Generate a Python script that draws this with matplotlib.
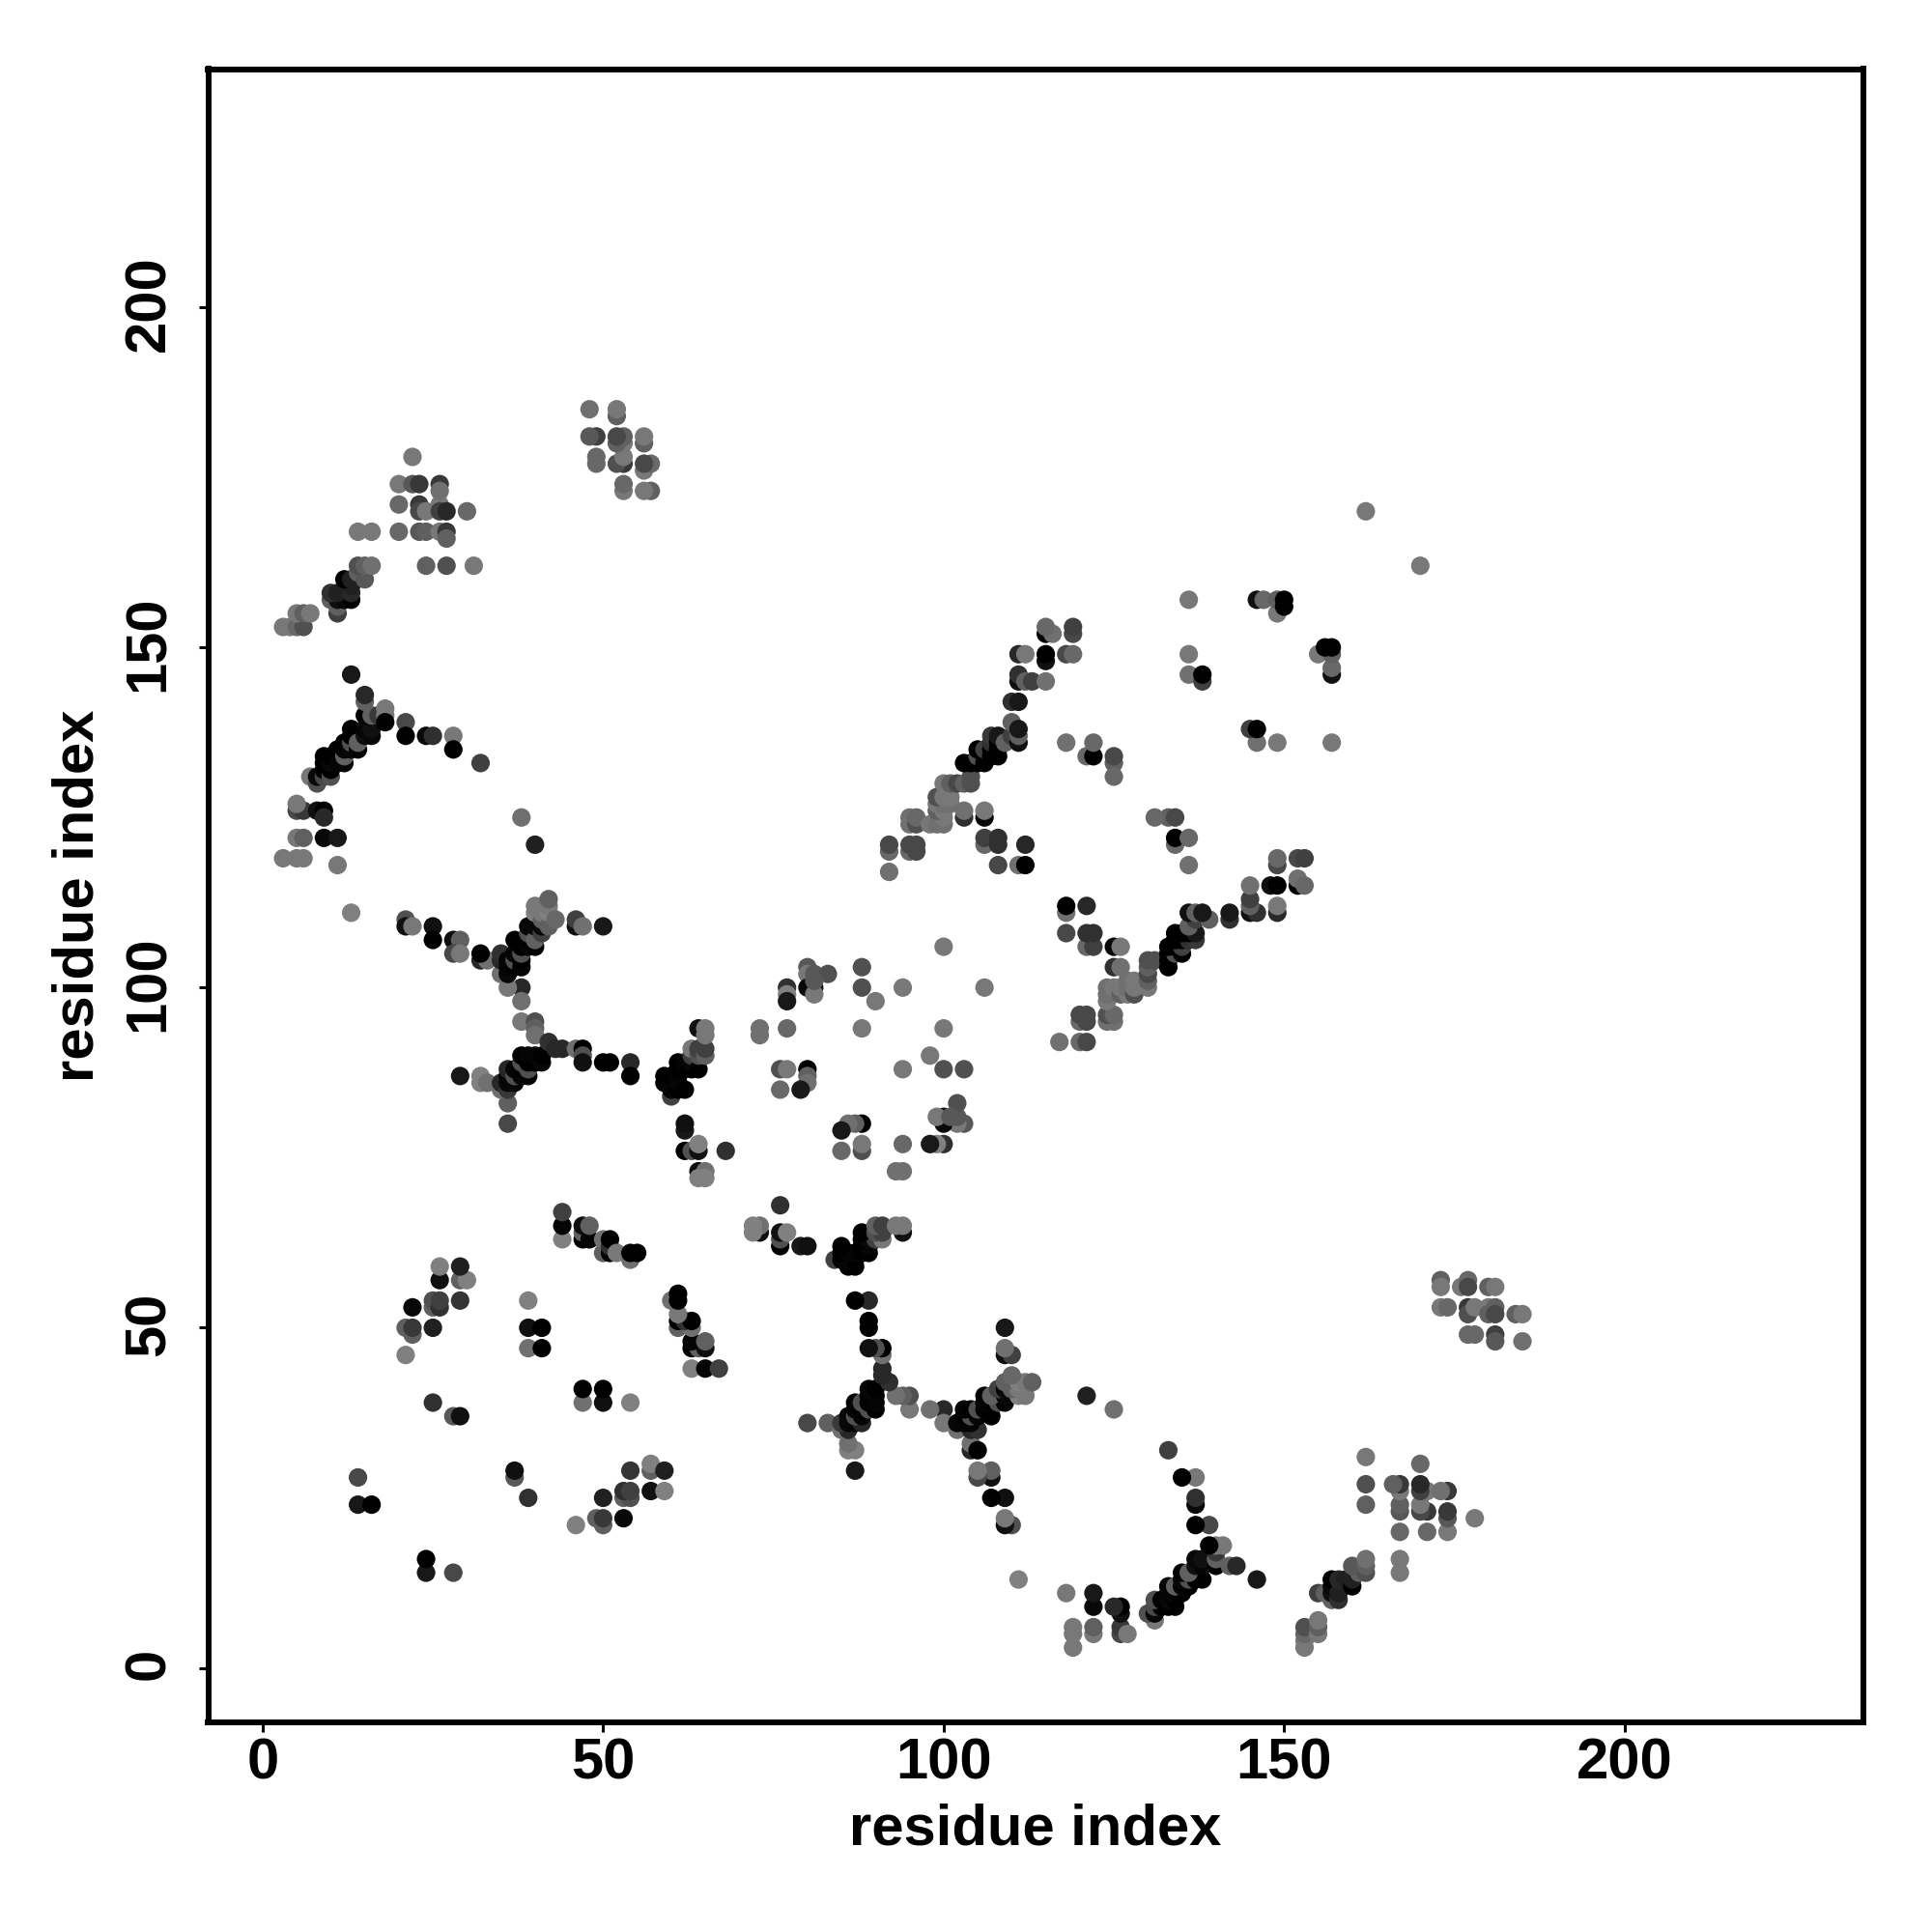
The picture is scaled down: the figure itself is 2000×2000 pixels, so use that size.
import matplotlib
matplotlib.use("Agg")
import matplotlib.pyplot as plt
from matplotlib.transforms import ScaledTranslation

plt.rcParams['font.family'] = ['Liberation Sans', 'DejaVu Sans']

# contacts (residue i, residue j, grey level 0-255), grouped by region
a1_i = [14,16,14,25,28,29,21,21,22,22,22,25,25,25,26,26,29,26,29,30,26,29]
a1_j = [24,24,28,39,37,37,46,50,49,50,53,50,53,54,53,54,54,57,57,57,59,59]
a1_g = [0x18,0x00,0x48,0x30,0x58,0x10,0x80,0x60,0x60,0x38,0x08,0x20,0x60,0x50,0x30,0x40,0x35,0x10,0x60,0x80,0x80,0x20]

a2_i = [39,41,39,41,39,44,44,44,47,47,47,48,48,50,50,51,51,51,52,54,54,55]
a2_j = [47,47,50,50,54,63,65,67,63,64,65,63,65,61,63,61,62,63,61,60,61,61]
a2_g = [0x70,0x00,0x10,0x00,0x80,0x80,0x05,0x40,0x00,0x60,0x10,0x05,0x60,0x60,0x70,0x00,0x30,0x00,0x78,0x70,0x00,0x00]

a3_i = [13,3,5,6,11,5,6,9,11,5,6,8,9,9,5]
a3_j = [111,119,119,119,118,122,122,122,122,126,126,126,126,125,127]
a3_g = [0x80,0x78,0x78,0x78,0x78,0x78,0x60,0x08,0x18,0x48,0x38,0x10,0x00,0x28,0x78]

a4_i = [7,8,8,9,9,9,9,10,10,10,10,11,11,12,12,12,12,13,13,13,13,14,14,15,15,16,16]
a4_j = [131,130,131,131,132,133,134,131,132,133,134,133,135,133,134,135,136,135,136,137,138,135,136,137,138,137,138]
a4_g = [0x78,0x50,0x08,0x48,0x00,0x00,0x00,0x50,0x00,0x08,0x00,0x05,0x00,0x05,0x60,0x05,0x00,0x08,0x50,0x00,0x00,0x05,0x60,0x10,0x05,0x08,0x10]

a5_i = [15,16,17,18,18,18,15,15,13,21,21,24,25,28,28,32]
a5_j = [140,140,140,140,141,139,142,143,146,139,137,137,137,137,135,133]
a5_g = [0x00,0x60,0x38,0x78,0x78,0x00,0x60,0x28,0x18,0x48,0x00,0x08,0x30,0x78,0x00,0x40]

a6_i = [3,4,5,6,5,6,7,11,11,10,11,12,13,10,11,13,13,12,13,14,15,14,15,16]
a6_j = [153,153,153,153,155,155,155,155,156,157,157,157,157,158,158,158,159,160,160,161,160,162,162,162]
a6_g = [0x78,0x78,0x68,0x50,0x78,0x60,0x78,0x40,0x60,0x60,0x10,0x08,0x00,0x30,0x20,0x28,0x20,0x00,0x20,0x60,0x58,0x50,0x60,0x70]

a7_i = [14,16,20,23,24,26,27,27,24,27,31,20,23,23,24,26,26,27,30,20,22,23,26,26,22]
a7_j = [167,167,167,167,167,167,167,166,162,162,162,171,171,170,170,171,170,170,170,174,174,174,174,173,178]
a7_g = [0x78,0x78,0x68,0x58,0x60,0x78,0x38,0x60,0x60,0x50,0x78,0x68,0x38,0x48,0x78,0x78,0x40,0x28,0x68,0x78,0x58,0x38,0x38,0x70,0x78]

a8_i = [57,56,56,57,56,56,56,53,53,53,52,53,53,52,53,52,52,52,49,49,49,48,48]
a8_j = [173,173,176,177,177,180,181,173,174,177,177,178,180,180,181,181,184,185,177,178,181,181,185]
a8_g = [0x60,0x78,0x78,0x68,0x48,0x60,0x78,0x78,0x68,0x38,0x50,0x78,0x78,0x60,0x60,0x48,0x60,0x78,0x68,0x68,0x40,0x58,0x70]

a9_i = [21,21,22,25,25,28,29,28,29,32,33,32]
a9_j = [110,109,109,109,107,107,107,105,105,104,104,105]
a9_g = [0x50,0x10,0x78,0x10,0x00,0x10,0x60,0x48,0x78,0x28,0x70,0x00]

a10_i = [36,36,29,32,32,33,35,35,36,36,36,36,37,37,37,38,38,38,38,39,39,39,39,40,40,41,41]
a10_j = [80,83,87,86,87,86,85,86,85,86,87,88,86,87,88,87,88,89,90,87,88,89,90,89,90,89,90]
a10_g = [0x48,0x60,0x18,0x80,0x80,0x70,0x70,0x28,0x38,0x08,0x05,0x28,0x08,0x50,0x05,0x05,0x00,0x50,0x00,0x05,0x50,0x00,0x05,0x00,0x05,0x08,0x00]

a11_i = [38,36,38,38,40,40,40,42,43,44,46,47,47,47,50,51,54,54]
a11_j = [100,100,98,95,95,94,93,92,91,91,91,91,90,89,89,89,89,87]
a11_g = [0x28,0x78,0x70,0x78,0x50,0x60,0x70,0x30,0x28,0x28,0x70,0x00,0x50,0x10,0x00,0x00,0x28,0x00]

a12_i = [35,35,35,36,36,36,37,37,37,37,38,38,38,38,39,39,39,39,40,40,40,40,40,41,41,41,41,41,42,42,42,42,43]
a12_j = [102,104,105,102,103,104,103,104,105,107,103,104,105,106,106,107,108,109,106,107,109,111,112,108,109,110,111,112,109,111,112,113,110]
a12_g = [0x70,0x28,0x30,0x08,0x05,0x05,0x00,0x50,0x05,0x00,0x05,0x00,0x50,0x00,0x05,0x00,0x50,0x05,0x00,0x60,0x08,0x80,0x78,0x40,0x08,0x60,0x78,0x78,0x60,0x80,0x78,0x60,0x68]

a13_i = [46,46,47,50,38,40]
a13_j = [109,110,109,109,125,121]
a13_g = [0x10,0x40,0x70,0x18,0x70,0x20]

a14_i = [59,59,60,60,60,60,61,61,61,61,61,62,62,62,63,63,63,63,64,64,64,64,65,65,65,65]
a14_j = [86,87,84,85,86,87,85,86,87,88,89,85,88,89,88,89,90,91,88,90,91,94,90,91,93,94]
a14_g = [0x00,0x00,0x40,0x05,0x05,0x00,0x00,0x05,0x05,0x00,0x00,0x00,0x00,0x05,0x00,0x08,0x40,0x78,0x00,0x50,0x40,0x10,0x60,0x40,0x78,0x78]

a15_i = [62,62,62,63,64,64,68,64,65,64,65]
a15_j = [79,80,76,76,76,77,76,73,73,72,72]
a15_g = [0x18,0x10,0x00,0x50,0x10,0x80,0x30,0x10,0x70,0x80,0x80]

a16_i = [73,73,77,77,77,77,80,80,81,83,81,80,81,81,88,88,90,94,100,88,76,77,80,80,80,79,76]
a16_j = [93,94,94,100,99,98,103,102,102,102,100,100,99,101,103,100,98,100,106,94,88,88,88,87,86,85,85]
a16_g = [0x70,0x70,0x68,0x30,0x80,0x18,0x58,0x78,0x58,0x50,0x10,0x08,0x78,0x58,0x50,0x50,0x78,0x78,0x78,0x78,0x50,0x78,0x00,0x60,0x70,0x18,0x68]

a17_i = [92,92,92,95,95,95,95,96,96,96,96,98,99,100,100,99,100,99,100,101,99,100,101,100,101,102,103,104,104,103,103,106,106,106,106,108,108,112,108,111,112]
a17_j = [117,120,121,120,121,124,125,120,121,124,125,124,124,124,125,126,126,127,127,127,128,128,128,130,130,130,130,130,131,125,126,125,126,121,122,121,122,121,118,118,118]
a17_g = [0x70,0x68,0x48,0x68,0x48,0x70,0x70,0x48,0x48,0x50,0x68,0x78,0x70,0x70,0x78,0x60,0x78,0x78,0x70,0x70,0x50,0x78,0x78,0x78,0x60,0x48,0x60,0x50,0x50,0x30,0x70,0x08,0x78,0x68,0x40,0x30,0x30,0x28,0x48,0x70,0x00]

a18_i = [103,104,105,105,105,106,106,106,107,107,107,107,108,108,108,108,109,110,110,111,111,111,110,111,111,111,112,113,115,111,112,115,115,118,119,115,116,115,119,119]
a18_j = [133,133,133,134,135,133,134,135,134,135,136,137,134,135,136,137,136,137,139,136,137,138,142,142,145,146,145,145,145,149,149,148,149,149,149,152,152,153,152,153]
a18_g = [0x00,0x00,0x00,0x50,0x00,0x00,0x00,0x40,0x00,0x00,0x30,0x38,0x00,0x00,0x00,0x18,0x60,0x40,0x60,0x10,0x60,0x18,0x30,0x18,0x10,0x30,0x60,0x40,0x70,0x28,0x78,0x10,0x00,0x48,0x68,0x00,0x70,0x68,0x48,0x40]

a19_i = [118,121,122,122,125,125,125,136,136,136,138,138,146,147,149,149,150,150,162]
a19_j = [136,134,134,136,133,134,131,146,149,157,145,146,157,157,155,157,156,157,170]
a19_g = [0x70,0x68,0x00,0x68,0x60,0x48,0x68,0x70,0x78,0x78,0x40,0x00,0x10,0x68,0x78,0x60,0x00,0x00,0x78]

groups = [(a1_i,a1_j,a1_g),(a2_i,a2_j,a2_g),(a3_i,a3_j,a3_g),(a4_i,a4_j,a4_g),(a5_i,a5_j,a5_g),
          (a6_i,a6_j,a6_g),(a7_i,a7_j,a7_g),(a8_i,a8_j,a8_g),(a9_i,a9_j,a9_g),(a10_i,a10_j,a10_g),
          (a11_i,a11_j,a11_g),(a12_i,a12_j,a12_g),(a13_i,a13_j,a13_g),(a14_i,a14_j,a14_g),(a15_i,a15_j,a15_g),
          (a16_i,a16_j,a16_g),(a17_i,a17_j,a17_g),(a18_i,a18_j,a18_g),(a19_i,a19_j,a19_g)]

ticks = [0, 50, 100, 150, 200]
axis_label = "residue index"

W = H = 2000
L, R, T, B = 215.5, 1928.5, 71.5, 1783.0
fig = plt.figure(figsize=(20, 20), dpi=100, facecolor="white")
ax = fig.add_axes([L / W, 1 - B / H, (R - L) / W, (B - T) / H])

xs, ys, cs = [], [], []
for gi, gj, gg in groups:
    for a, b, g in zip(gi, gj, gg, strict=True):
        for x, y in ((a, b), (b, a)):
            xs.append(x); ys.append(y); cs.append((g / 255, g / 255, g / 255))
ax.scatter(xs, ys, s=190, c=cs, linewidths=0, zorder=3)

ax.set_xlim(-8, 235)
ax.set_ylim(-8, 235)
ax.set_xticks(ticks); ax.set_yticks(ticks)
for s in ax.spines.values():
    s.set_linewidth(4.3)
ax.tick_params(axis="both", length=7, width=2.2, color="black")
ax.tick_params(axis="x", pad=3.8)
ax.tick_params(axis="y", pad=17)
for t in ax.get_xticklabels():
    t.set_fontsize(43); t.set_fontweight("bold")
y_shift = ScaledTranslation(0, 4 / 100, fig.dpi_scale_trans)
for t in ax.get_yticklabels():
    t.set_fontsize(43); t.set_fontweight("bold"); t.set_rotation(90); t.set_va("center")
    t.set_transform(t.get_transform() + y_shift)
ax.set_xlabel(axis_label, fontsize=43, fontweight="bold")
ax.set_ylabel(axis_label, fontsize=43, fontweight="bold")
ax.xaxis.set_label_coords(0.5, (B - 1867) / (B - T))
ax.yaxis.set_label_coords((109 - L) / (R - L), 0.5)
fig.savefig("out.png", dpi=100)
